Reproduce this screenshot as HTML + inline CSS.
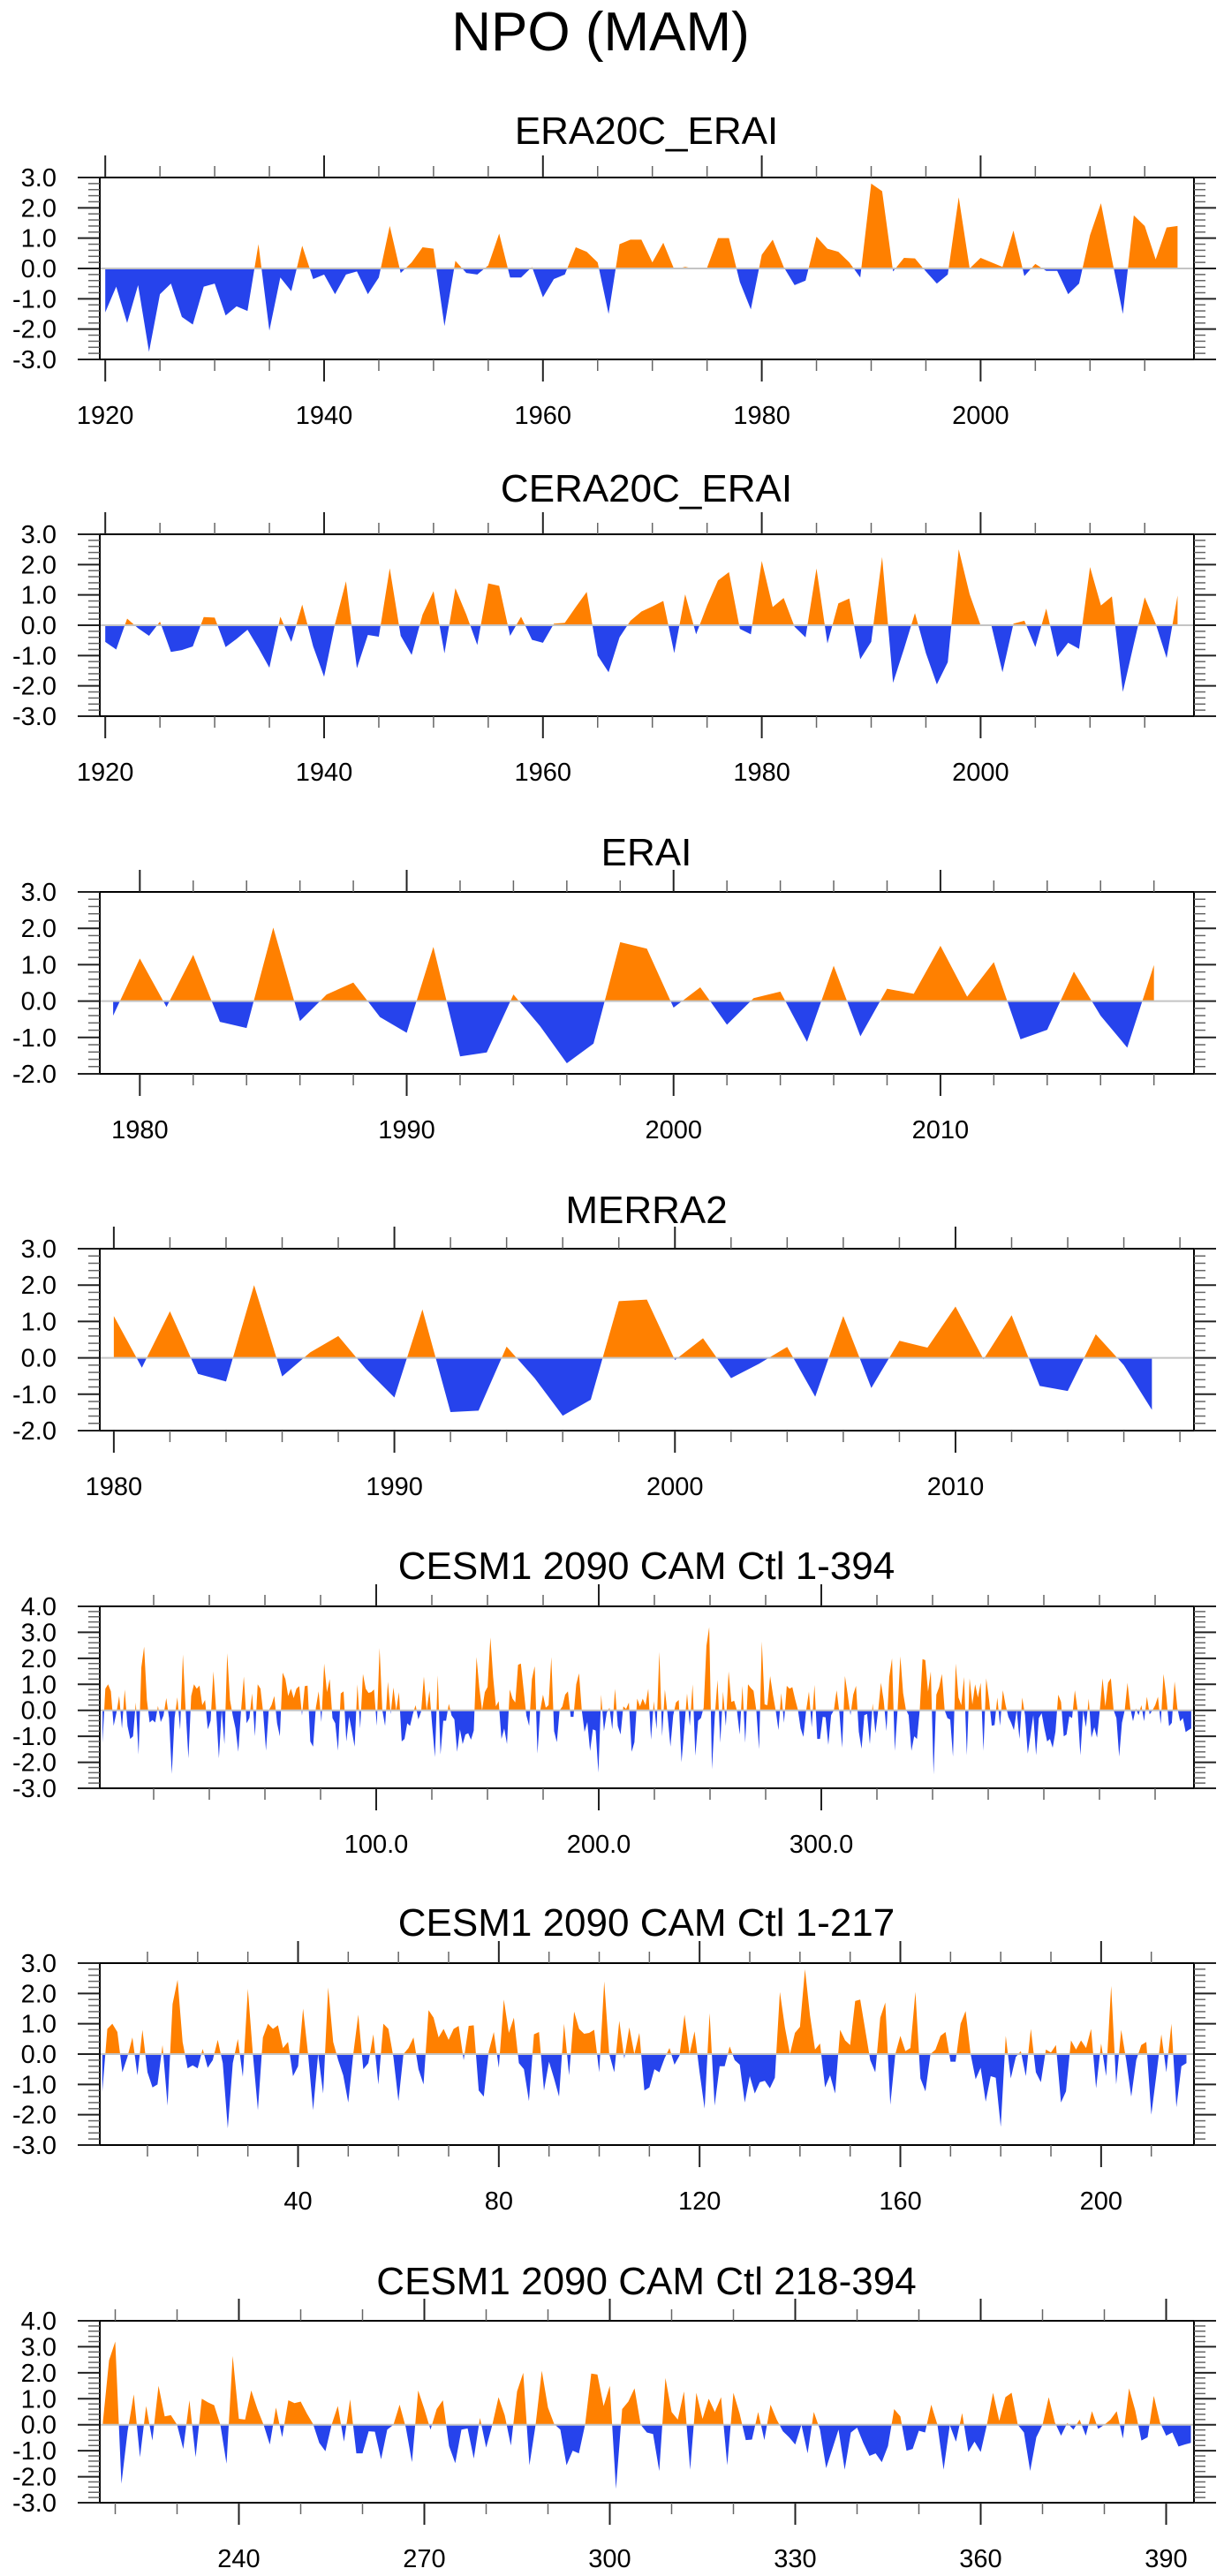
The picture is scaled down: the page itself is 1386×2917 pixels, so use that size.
<!DOCTYPE html>
<html><head><meta charset="utf-8"><title>NPO (MAM)</title>
<style>
html,body{margin:0;padding:0;background:#fff;}
svg{display:block;font-family:"Liberation Sans",Arial,sans-serif;}
</style></head>
<body>
<svg id="chart" width="1386" height="2917" viewBox="0 0 1386 2917" xmlns="http://www.w3.org/2000/svg">
<rect x="0" y="0" width="1386" height="2917" fill="#fff"/>
<text x="680" y="57" font-size="62" text-anchor="middle" fill="#000">NPO (MAM)</text>
</svg>
<script>
// ===== data =====
const era20cStartYear = 1920;
const era20cValues = [
-1.45,-0.6,-1.8,-0.55,-2.75,-0.85,-0.5,-1.6,-1.85,-0.6,
-0.5,-1.55,-1.25,-1.4,0.8,-2.05,-0.3,-0.75,0.75,-0.35,
-0.2,-0.85,-0.2,-0.1,-0.85,-0.3,1.4,-0.15,0.2,0.7,
0.65,-1.9,0.25,-0.15,-0.2,0.1,1.15,-0.3,-0.3,0.05,
-0.95,-0.35,-0.2,0.7,0.55,0.2,-1.5,0.8,0.95,0.95,
0.2,0.85,-0.03,0.05,-0.02,0.02,1.0,1.0,-0.45,-1.35,
0.45,0.95,0.05,-0.55,-0.4,1.05,0.65,0.55,0.2,-0.3,
2.8,2.55,-0.1,0.35,0.33,-0.1,-0.5,-0.2,2.35,0.0,
0.35,0.2,0.05,1.25,-0.25,0.15,-0.08,-0.08,-0.85,-0.5,
1.1,2.15,0.3,-1.5,1.75,1.4,0.3,1.35,1.4];
const cera20cStartYear = 1920;
const cera20cValues = [
-0.55,-0.8,0.22,-0.1,-0.35,0.12,-0.88,-0.82,-0.7,0.27,
0.25,-0.72,-0.45,-0.15,-0.75,-1.4,0.28,-0.55,0.68,-0.7,
-1.7,0.05,1.45,-1.42,-0.32,-0.38,1.88,-0.35,-0.98,0.35,
1.12,-0.93,1.22,0.35,-0.65,1.38,1.3,-0.35,0.28,-0.48,
-0.58,0.05,0.08,0.6,1.1,-1.0,-1.55,-0.4,0.15,0.45,
0.62,0.8,-0.92,1.02,-0.3,0.65,1.48,1.75,-0.12,-0.3,
2.12,0.6,0.9,-0.05,-0.4,1.87,-0.6,0.72,0.88,-1.12,
-0.55,2.25,-1.9,-0.78,0.4,-0.92,-1.95,-1.22,2.5,1.02,
0.0,-0.03,-1.55,0.05,0.15,-0.72,0.55,-1.05,-0.58,-0.78,
1.92,0.65,0.95,-2.2,-0.62,0.92,0.05,-1.08,0.98];
const eraiStartYear = 1979;
const eraiValues = [
-0.4,1.17,-0.16,1.27,-0.57,-0.74,2.02,-0.55,0.18,0.51,
-0.44,-0.87,1.49,-1.52,-1.41,0.18,-0.69,-1.71,-1.17,1.62,
1.44,-0.18,0.38,-0.65,0.08,0.26,-1.12,0.97,-0.97,0.34,
0.2,1.52,0.12,1.07,-1.05,-0.79,0.81,-0.4,-1.28,0.99];
const merra2StartYear = 1980;
const merra2Values = [
1.15,-0.27,1.28,-0.44,-0.65,2.0,-0.51,0.15,0.6,-0.32,
-1.09,1.33,-1.49,-1.45,0.31,-0.56,-1.59,-1.15,1.56,1.6,
-0.06,0.54,-0.56,-0.16,0.3,-1.07,1.15,-0.83,0.47,0.28,
1.41,-0.04,1.17,-0.77,-0.91,0.65,-0.2,-1.43];
const cesmStartIndex = 1;
const cesmValues = [
-1.25,0.83,1.0,0.73,-0.6,-0.1,0.55,-0.7,0.8,-0.6,
-1.1,-1.0,0.3,-1.7,1.65,2.45,0.4,-0.47,-0.37,-0.47,
0.17,-0.45,-0.2,0.47,-0.3,-2.45,-0.3,0.5,-0.75,2.15,
0,-1.85,0.55,1.0,0.83,0.95,0.2,0.4,-0.73,-0.4,
1.5,0,-1.85,0,-1.3,2.2,0.4,-0.2,-0.7,-1.6,
0,1.3,-0.5,-0.3,0.65,-1.0,1.0,0.83,-0.1,-1.55,
0,0.2,0.55,-0.5,-1.0,1.45,1.2,0.55,0.83,0.47,
0.83,0.93,-0.2,0.93,
0.95,-1.2,-1.4,0.1,0.73,-0.45,
1.8,0.7,1.2,-0.3,-0.5,-1.55,0.65,0.73,-1.2,-0.25,
-0.8,-1.4,1.0,-0.7,1.4,0.83,0.67,0.7,0.8,-0.6,
2.4,0,-0.6,1.1,-0.15,0.88,0,0.7,-1.2,-1.1,
-0.5,-0.6,-0.15,0.2,-0.35,-0.05,1.3,0,0.75,-0.6,
-1.8,1.35,-1.7,-0.4,-0.4,0.25,-0.2,-0.35,-1.6,-0.73,
-1.3,-0.93,-0.88,-1.13,-0.78,2.05,0.88,0,0.7,0.9,
2.8,1.27,0.15,0.35,-1.1,-0.7,-1.3,
0.8,0.45,0.3,
1.75,1.8,0.8,-0.2,-0.6,1.2,1.7,-1.67,0,0.6,
0.1,0.2,2.05,-0.8,-1.23,0,0.15,0.6,0.73,-0.25,
-0.25,1.0,1.42,0,-0.83,-0.45,-1.57,-0.73,-0.78,-2.4,
0.6,-0.8,-0.1,0.1,-0.73,0.83,-0.6,-0.93,0.15,0.05,
0.3,-1.6,-1.23,0.45,0.15,0.45,0.2,0.83,-1.13,0.35,
-0.73,2.25,-1.0,0.8,-0.2,-1.4,-0.2,0.3,0.4,-2.0,
-0.7,0.65,-0.6,1.0,-1.75,-0.4,-0.3,
0.1,2.48,3.2,-2.27,-0.25,1.17,-1.25,0.72,-0.61,1.5,
0.32,0.37,0,-0.93,0.94,-1.25,1.0,0.86,0.75,0,
-1.5,2.65,0.23,0.2,1.32,0.6,0,-0.76,0.66,-0.48,
0.94,0.83,0.89,0.43,0.03,-0.7,-1.02,0,0.72,-0.65,
0.98,-1.1,-1.1,-0.25,-0.27,-1.33,-0.19,0,0.77,-0.1,
-1.44,1.32,0.6,-0.19,0.6,0.94,-0.82,-1.48,-0.19,-0.14,
-1.3,
0.26,-0.88,0,1.06,0.37,-0.8,1.28,2.0,-1.56,0,
2.08,0.66,0.03,-0.19,-1.56,-1.0,-1.1,0,1.97,1.93,
0.72,1.5,-2.47,0.6,0.89,1.4,0,-0.3,-0.36,-1.78,
1.8,0.49,0.2,1.28,-1.73,1.23,0.23,1.0,0.49,1.06,
-1.56,1.23,0.43,-0.59,-0.57,0.49,-0.59,0.77,0.2,-0.25,
-0.48,-0.76,0,-1.1,0.49,-0.19,-1.67,-0.93,-0.19,
-1.73,-0.3,-0.11,-0.7,-1.2,-1.1,-1.44,-0.82,0.6,0.32,
-1.0,-0.93,-0.23,-0.3,0.77,0,-1.73,-0.02,-0.65,0.45,
-1.05,-0.65,-1.05,0,1.23,0.15,1.06,1.23,0,-0.3,
-1.78,-0.48,0,1.06,0.09,-0.42,0.07,-0.19,0.2,-0.42,
0.52,-0.16,0,0.2,0.52,-0.53,1.4,0.55,-0.61,-0.48,
1.11,0.09,-0.42,-0.3,-0.84,-0.76,-0.7];
const yTicks6 = ["3.0","2.0","1.0","0.0","-1.0","-2.0","-3.0"];
const yTicks5 = ["3.0","2.0","1.0","0.0","-1.0","-2.0"];
const yTicks7 = ["4.0","3.0","2.0","1.0","0.0","-1.0","-2.0","-3.0"];
const yearTicks20 = ["1920","1940","1960","1980","2000"];
const yearTicks10 = ["1980","1990","2000","2010"];
const cesmAllTicks = ["100.0","200.0","300.0"];
const cesmFirstTicks = ["40","80","120","160","200"];
const cesmSecondTicks = ["240","270","300","330","360","390"];

// ===== drawing =====
const NS = "http://www.w3.org/2000/svg";
const svg = document.getElementById("chart");
const FL = 113, FR = 1352, FH = 206;
function mk(tag, attrs, parent){
  const e = document.createElementNS(NS, tag);
  for (const k in attrs) e.setAttribute(k, attrs[k]);
  (parent || svg).appendChild(e);
  return e;
}
let clipId = 0;
function drawPanel(cfg){
  const g = mk("g", {});
  
  
  const sx = v => FL + (v - cfg.xmin) / (cfg.xmax - cfg.xmin) * (FR - FL);
  const sy = v => cfg.top + (cfg.ymax - v) / (cfg.ymax - cfg.ymin) * FH;
  const bottom = cfg.top + FH;
  const t = mk("text", {x: 732, y: cfg.titleY, "font-size": 44, "text-anchor": "middle", fill: "#000"}, g);
  t.textContent = cfg.title;
  
  
  // fill
  const y0 = sy(0);
  let d = "M" + sx(cfg.x0).toFixed(2) + "," + y0.toFixed(2);
  cfg.values.forEach((v, i) => { d += " L" + sx(cfg.x0 + i).toFixed(2) + "," + sy(v).toFixed(2); });
  d += " L" + sx(cfg.x0 + cfg.values.length - 1).toFixed(2) + "," + y0.toFixed(2) + " Z";
  const defs = mk("defs", {}, g);
  const ca = "ca" + (clipId++), cb = "cb" + (clipId++);
  const c1 = mk("clipPath", {id: ca}, defs); mk("rect", {x: FL, y: cfg.top, width: FR - FL, height: y0 - cfg.top}, c1);
  const c2 = mk("clipPath", {id: cb}, defs); mk("rect", {x: FL, y: y0, width: FR - FL, height: bottom - y0}, c2);
  const pos = mk("path", {d: d, fill: "#ff8000", "clip-path": "url(#" + ca + ")"}, g);
  
  
  const neg = mk("path", {d: d, fill: "#2643ec", "clip-path": "url(#" + cb + ")"}, g);
  
  
  const zl = mk("line", {x1: FL, x2: FR, y1: y0, y2: y0, stroke: "#c4c4c4", "stroke-width": 2}, g);
  
  
  // frame
  const fr = mk("rect", {x: FL, y: cfg.top, width: FR - FL, height: FH, fill: "none", stroke: "#000", "stroke-width": 2}, g);
  
  
  // y ticks
  for (let v = cfg.ymin; v <= cfg.ymax + 1e-6; v += 0.2) {
    const vv = Math.round(v * 10) / 10;
    const major = Math.abs(vv - Math.round(vv)) < 1e-6;
    const L = major ? 25 : 13;
    const y = sy(vv);
    mk("line", {x1: FL - L, x2: FL, y1: y, y2: y, stroke: major ? "#222" : "#666", "stroke-width": major ? 2 : 1.5}, g);
    mk("line", {x1: FR, x2: FR + L, y1: y, y2: y, stroke: major ? "#222" : "#666", "stroke-width": major ? 2 : 1.5}, g);
  }
  cfg.yLabels.forEach(lab => {
    const tx = mk("text", {x: 64, y: sy(parseFloat(lab)) + 10, "font-size": 29, "text-anchor": "end", fill: "#000"}, g);
    tx.textContent = lab;
    
    
  });
  // x ticks
  const tsx = cfg.tickScale || sx;
  const lo = Math.ceil(cfg.tickMin / cfg.minorStep) * cfg.minorStep;
  for (let v = lo; v <= cfg.tickMax + 1e-6; v += cfg.minorStep) {
    const x = tsx(v);
    if (x < FL - 0.5 || x > FR + 0.5) continue;
    const major = cfg.xLabels.includes(cfg.fmt(v));
    const L = major ? 25 : 13;
    const col = major ? "#222" : "#666";
    mk("line", {x1: x, x2: x, y1: cfg.top - L, y2: cfg.top, stroke: col, "stroke-width": major ? 2 : 1.5}, g);
    mk("line", {x1: x, x2: x, y1: bottom, y2: bottom + L, stroke: col, "stroke-width": major ? 2 : 1.5}, g);
  }
  cfg.xLabels.forEach(lab => {
    const tx = mk("text", {x: tsx(parseFloat(lab)), y: bottom + 73, "font-size": 29, "text-anchor": "middle", fill: "#000"}, g);
    tx.textContent = lab;
    
    
  });
}
const yearFmt = v => String(Math.round(v));
const cesmTickScale = v => 174 + v * 2.52;
drawPanel({name: "era20c-erai", title: "ERA20C_ERAI", titleY: 163, top: 201, xmin: 1919.5, xmax: 2019.5, ymin: -3, ymax: 3,
  x0: era20cStartYear, values: era20cValues, yLabels: yTicks6, xLabels: yearTicks20, tickMin: 1919.5, tickMax: 2019.5, minorStep: 5, fmt: yearFmt});
drawPanel({name: "cera20c-erai", title: "CERA20C_ERAI", titleY: 568, top: 605, xmin: 1919.5, xmax: 2019.5, ymin: -3, ymax: 3,
  x0: cera20cStartYear, values: cera20cValues, yLabels: yTicks6, xLabels: yearTicks20, tickMin: 1919.5, tickMax: 2019.5, minorStep: 5, fmt: yearFmt});
drawPanel({name: "erai", title: "ERAI", titleY: 980, top: 1010, xmin: 1978.5, xmax: 2019.5, ymin: -2, ymax: 3,
  x0: eraiStartYear, values: eraiValues, yLabels: yTicks5, xLabels: yearTicks10, tickMin: 1978.5, tickMax: 2019.5, minorStep: 2, fmt: yearFmt});
drawPanel({name: "merra2", title: "MERRA2", titleY: 1385, top: 1414, xmin: 1979.5, xmax: 2018.5, ymin: -2, ymax: 3,
  x0: merra2StartYear, values: merra2Values, yLabels: yTicks5, xLabels: yearTicks10, tickMin: 1979.5, tickMax: 2018.5, minorStep: 2, fmt: yearFmt});
drawPanel({name: "cesm-1-394", title: "CESM1 2090 CAM Ctl 1-394", titleY: 1788, top: 1819, xmin: 0, xmax: 395, ymin: -3, ymax: 4,
  x0: cesmStartIndex, values: cesmValues, yLabels: yTicks7, xLabels: cesmAllTicks, tickScale: cesmTickScale, tickMin: -25, tickMax: 470, minorStep: 25, fmt: v => v.toFixed(1)});
drawPanel({name: "cesm-1-217", title: "CESM1 2090 CAM Ctl 1-217", titleY: 2192, top: 2223, xmin: 0.5, xmax: 218.5, ymin: -3, ymax: 3,
  x0: cesmStartIndex, values: cesmValues.slice(0, 217), yLabels: yTicks6, xLabels: cesmFirstTicks, tickMin: 0, tickMax: 218, minorStep: 10, fmt: yearFmt});
drawPanel({name: "cesm-218-394", title: "CESM1 2090 CAM Ctl 218-394", titleY: 2598, top: 2628, xmin: 217.5, xmax: 394.5, ymin: -3, ymax: 4,
  x0: 218, values: cesmValues.slice(217), yLabels: yTicks7, xLabels: cesmSecondTicks, tickMin: 210, tickMax: 394, minorStep: 10, fmt: yearFmt});
</script>
</body></html>
